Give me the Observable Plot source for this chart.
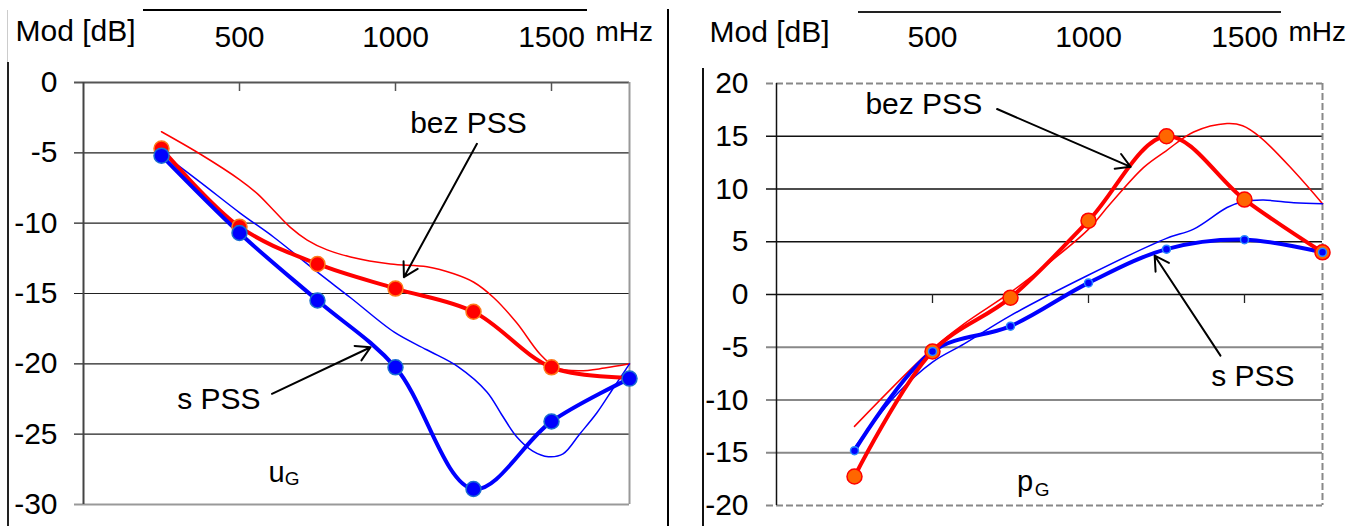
<!DOCTYPE html>
<html><head><meta charset="utf-8">
<script src="https://cdn.jsdelivr.net/npm/d3@7"></script>
<script src="https://cdn.jsdelivr.net/npm/@observablehq/plot@0.6"></script>
<style>
html,body{margin:0;padding:0;background:#fff;}
body{width:1353px;height:526px;position:relative;overflow:hidden;font-family:"Liberation Sans",Arial,sans-serif;}
.panel{position:absolute;top:0;}
.ln{position:absolute;background:#000;}
</style></head><body>
<div id="left" class="panel" style="left:0px"></div>
<div id="right" class="panel" style="left:668px"></div>
<div class="ln" style="left:143px;top:9px;width:444px;height:2px"></div>
<div class="ln" style="left:858px;top:11px;width:423px;height:2px;background:#222"></div>
<div class="ln" style="left:7px;top:10px;width:1px;height:52px;background:#ccc"></div>
<div class="ln" style="left:7px;top:62px;width:2px;height:464px;background:#222"></div>
<div class="ln" style="left:667px;top:9px;width:2px;height:517px"></div>
<div class="ln" style="left:702px;top:68px;width:2px;height:458px;background:#111"></div>
<script>
// ---- shared ----
const freq = [250, 500, 750, 1000, 1250, 1500, 1750];   // mHz
const xDomain = [0, 1750];
const xTicks = [500, 1000, 1500];
const xTickLabels = ["500", "1000", "1500"];
const yTitle = "Mod [dB]";
const xUnit = "mHz";

// ---- left panel (uG) ----
const uTicks = [0, -5, -10, -15, -20, -25, -30];
const uGrid = [-5, -10, -15, -20, -25];
const uBezPSS = [-4.7, -10.25, -12.9, -14.65, -16.3, -20.25, -21.0];
const uSPSS = [-5.2, -10.7, -15.5, -20.25, -28.9, -24.1, -21.05];
const uBezThinF = [250, 375, 500, 557, 610, 663, 717, 781, 856, 984, 1101, 1187, 1251, 1315, 1389, 1463, 1517, 1590, 1670, 1750];
const uBezThinV = [-3.5, -5.1, -6.9, -7.9, -9.1, -10.3, -11.2, -11.9, -12.4, -12.9, -13.1, -13.6, -14.2, -15.3, -17.1, -19.3, -20.3, -20.5, -20.3, -20.0];
const uSThinF = [250, 375, 503, 610, 751, 856, 996, 1100, 1200, 1293, 1340, 1389, 1440, 1490, 1537, 1590, 1645, 1699, 1750];
const uSThinV = [-5.0, -7.1, -9.3, -11.0, -13.5, -15.3, -17.75, -19.0, -20.2, -22.0, -23.6, -25.2, -26.2, -26.6, -26.4, -25.0, -23.5, -21.7, -20.0];
const uLabelText = ["bez PSS", "s PSS"];
const uLabelX = [1234, 434];
const uLabelY = [-2.9, -22.56];
const uArrowX1 = [1261, 604], uArrowY1 = [-4.36, -22.13];
const uArrowX2 = [1027, 920], uArrowY2 = [-13.84, -18.82];
const uMain = {text: "u", x: 593, y: -27.77};
const uSub = {text: "G", x: 645, y: -28.2};

// ---- right panel (pG) ----
const pTicks = [20, 15, 10, 5, 0, -5, -10, -15, -20];
const pGridDark = [15, 10, 5, 0];
const pGridGray = [-5, -10, -15];
const pBezPSS = [-17.25, -5.4, -0.3, 7.0, 15.0, 9.0, 4.0];
const pSPSS = [-14.8, -5.4, -3.0, 1.1, 4.3, 5.2, 4.0];
const pBezThinF = [250, 494, 600, 750, 856, 997, 1070, 1177, 1248, 1337, 1444, 1494, 1551, 1658, 1750];
const pBezThinV = [-12.5, -5.3, -2.8, 0.2, 2.6, 6.1, 8.6, 12.05, 13.6, 15.4, 16.2, 16.0, 14.9, 11.7, 8.6];
const pSThinF = [250, 387, 500, 600, 750, 997, 1248, 1337, 1444, 1494, 1561, 1658, 1750];
const pSThinV = [-14.5, -9.4, -6.4, -4.7, -2.0, 1.8, 5.3, 6.2, 8.25, 8.8, 8.95, 8.7, 8.6];
const pLabelText = ["bez PSS", "s PSS"];
const pLabelX = [472, 1527];
const pLabelY = [18.0, -7.72];
const pArrowX1 = [707, 1423], pArrowY1 = [17.58, -5.79];
const pArrowX2 = [1135, 1212], pArrowY2 = [12.1, 3.68];
const pMain = {text: "p", x: 771, y: -17.7};
const pSub = {text: "G", x: 828, y: -18.5};

const FONT = "'Liberation Sans', Arial, sans-serif";
const idx = n => d3.range(n);
const fx = d => d;

function commonTop(digDy, titleDx, titleDy, unitDx, unitDy) {
  return [
    Plot.text(idx(xTicks.length), {x: i => xTicks[i], text: i => xTickLabels[i], frameAnchor: "top", lineAnchor: "middle", dy: digDy, fontSize: 30, fill: "#000"}),
    Plot.text([yTitle], {text: d => d, frameAnchor: "top-left", lineAnchor: "middle", textAnchor: "start", dx: titleDx, dy: titleDy, fontSize: 30, fill: "#000"}),
    Plot.text([xUnit], {text: d => d, frameAnchor: "top-right", lineAnchor: "middle", textAnchor: "start", dx: unitDx, dy: unitDy, fontSize: 28, fill: "#000"})
  ];
}

function annotations(lt, lx, ly, ax1, ay1, ax2, ay2, main, sub) {
  return [
    Plot.arrow(idx(ax1.length), {x1: i => ax1[i], y1: i => ay1[i], x2: i => ax2[i], y2: i => ay2[i], stroke: "#000", strokeWidth: 2, headLength: 12}),
    Plot.text(idx(lt.length), {x: i => lx[i], y: i => ly[i], text: i => lt[i], fontSize: 30, fill: "#000"}),
    Plot.text([main], {x: d => d.x, y: d => d.y, text: d => d.text, fontSize: 29, textAnchor: "start", fill: "#000"}),
    Plot.text([sub], {x: d => d.x, y: d => d.y, text: d => d.text, fontSize: 19, textAnchor: "start", fill: "#000"})
  ];
}

const left = Plot.plot({
  width: 668, height: 526,
  marginLeft: 83, marginRight: 39, marginTop: 82, marginBottom: 22,
  x: {domain: xDomain, axis: null},
  y: {domain: [-30, 0], axis: null},
  style: {fontFamily: FONT, fontSize: "30px", background: "transparent", overflow: "visible", color: "#000"},
  marks: [
    Plot.ruleY(uGrid, {y: fx, stroke: "#222", strokeWidth: 1.2, insetLeft: -9}),
    Plot.ruleY([uTicks[0]], {y: fx, stroke: "#555", strokeWidth: 2, insetLeft: -9}),
    Plot.ruleY([uTicks[uTicks.length - 1]], {y: fx, stroke: "#999", strokeWidth: 2, insetLeft: -9}),
    Plot.ruleX([xDomain[0]], {x: fx, stroke: "#444", strokeWidth: 2}),
    Plot.ruleX([xDomain[1]], {x: fx, stroke: "#999", strokeWidth: 2}),
    Plot.ruleX(xTicks, {x: fx, y1: 0, y2: 0, insetBottom: -9, stroke: "#555", strokeWidth: 1.5}),
    Plot.axisY({ticks: uTicks, tickSize: 0, tickPadding: 26, tickFormat: d => String(d), fontSize: 30, fill: "#000"}),
    ...commonTop(-45, -68, -51, -34, -50),
    Plot.line(uBezThinF, {x: fx, y: (d, i) => uBezThinV[i], curve: "catmull-rom", stroke: "#ff0000", strokeWidth: 1.5}),
    Plot.line(uSThinF, {x: fx, y: (d, i) => uSThinV[i], curve: "catmull-rom", stroke: "#0000ff", strokeWidth: 1.5}),
    Plot.line(freq, {x: fx, y: (d, i) => uBezPSS[i], curve: "catmull-rom", stroke: "#ff0000", strokeWidth: 4}),
    Plot.line(freq, {x: fx, y: (d, i) => uSPSS[i], curve: "catmull-rom", stroke: "#0000ff", strokeWidth: 4}),
    Plot.dot(freq.slice(0, 6), {x: fx, y: (d, i) => uBezPSS[i], r: 7.5, fill: "#ff0000", stroke: "#ff7a1a", strokeWidth: 1.5}),
    Plot.dot(freq, {x: fx, y: (d, i) => uSPSS[i], r: 7.5, fill: "#0000ff", stroke: "#1a6fd0", strokeWidth: 1.5}),
    ...annotations(uLabelText, uLabelX, uLabelY, uArrowX1, uArrowY1, uArrowX2, uArrowY2, uMain, uSub)
  ]
});
document.getElementById("left").appendChild(left);

const right = Plot.plot({
  width: 685, height: 526,
  marginLeft: 108, marginRight: 31, marginTop: 83, marginBottom: 21,
  x: {domain: xDomain, axis: null},
  y: {domain: [-20, 20], axis: null},
  style: {fontFamily: FONT, fontSize: "30px", background: "transparent", overflow: "visible", color: "#000"},
  marks: [
    Plot.ruleY(pGridGray, {y: fx, stroke: "#888", strokeWidth: 2, insetLeft: -10}),
    Plot.ruleY(pGridDark, {y: fx, stroke: "#111", strokeWidth: 1.3, insetLeft: -10}),
    Plot.ruleY([pTicks[0], pTicks[pTicks.length - 1]], {y: fx, stroke: "#888", strokeWidth: 2, strokeDasharray: "7,3", insetLeft: -10}),
    Plot.ruleX([xDomain[1]], {x: fx, stroke: "#888", strokeWidth: 2, strokeDasharray: "7,3"}),
    Plot.ruleX([xDomain[0]], {x: fx, stroke: "#111", strokeWidth: 1.5}),
    Plot.ruleX(xTicks, {x: fx, y1: 0, y2: 0, insetBottom: -9, stroke: "#222", strokeWidth: 1.3}),
    Plot.axisY({ticks: pTicks, tickSize: 0, tickPadding: 28, tickFormat: d => String(d), fontSize: 30, fill: "#000"}),
    ...commonTop(-46, -67, -51.5, -34, -51),
    Plot.line(pBezThinF, {x: fx, y: (d, i) => pBezThinV[i], curve: "catmull-rom", stroke: "#ff0000", strokeWidth: 1.5}),
    Plot.line(pSThinF, {x: fx, y: (d, i) => pSThinV[i], curve: "catmull-rom", stroke: "#0000ff", strokeWidth: 1.5}),
    Plot.line(freq, {x: fx, y: (d, i) => pSPSS[i], curve: "catmull-rom", stroke: "#0000ff", strokeWidth: 4}),
    Plot.line(freq, {x: fx, y: (d, i) => pBezPSS[i], curve: "catmull-rom", stroke: "#ff0000", strokeWidth: 4}),
    Plot.dot(freq, {x: fx, y: (d, i) => pBezPSS[i], r: 7.5, fill: "#ff6600", stroke: "#ff0000", strokeWidth: 1.5}),
    Plot.dot(freq, {x: fx, y: (d, i) => pSPSS[i], r: 4, fill: "#0000ff", stroke: "#2a8cff", strokeWidth: 1.5}),
    ...annotations(pLabelText, pLabelX, pLabelY, pArrowX1, pArrowY1, pArrowX2, pArrowY2, pMain, pSub)
  ]
});
document.getElementById("right").appendChild(right);
</script>
</body></html>
